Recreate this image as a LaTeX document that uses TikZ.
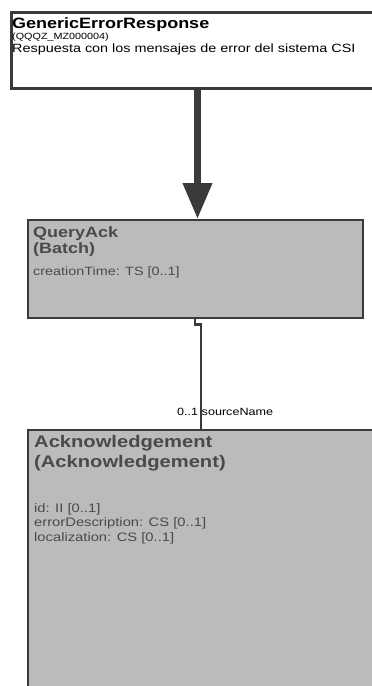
\documentclass[tikz,border=0pt]{standalone}
\usepackage{fontspec}
\setmainfont{Liberation Sans}[FakeStretch=1.2]
\usetikzlibrary{arrows.meta,positioning}
\definecolor{classgray}{HTML}{BBBBBB}
\definecolor{framegray}{HTML}{3A3A3A}
\definecolor{textgray}{HTML}{4A4A4A}
\tikzset{
  classbox/.style={draw=framegray, line width=1.5pt, fill=classgray, anchor=north west, inner sep=0pt},
  classname/.style={anchor=base west, inner sep=0pt, text=textgray, font=\bfseries\fontsize{15}{15}\selectfont},
  attr/.style={anchor=base west, inner sep=0pt, text=textgray, font=\fontsize{12.3}{14}\selectfont},
  link/.style={draw=framegray, line width=2.2pt},
}
\begin{document}
\begin{tikzpicture}[x=1pt,y=-1pt]
\useasboundingbox (0,0) rectangle (372,686);
\clip (0,0) rectangle (372,686);

% boxes
\node[classbox, fill=white, line width=2.5pt, minimum width=380pt, minimum height=76pt] (generic) at (10,11) {};
\node[classbox, minimum width=335pt, minimum height=98pt] (queryack) at (27,219) {};
\node[classbox, minimum width=360pt, minimum height=270pt] (ack) at (27,429) {};

% entry point arrow
\coordinate (entry) at (197.5,0);
\draw[draw=framegray, line width=7pt, -{Triangle[width=28pt,length=36pt]}]
  (generic.south -| entry) -- (queryack.north -| entry);

% association
\coordinate (qa) at (195,0);
\coordinate (ak) at (201,0);
\draw[link] (queryack.south -| qa) -- ++(0,6) -- ++(6,0) -- (ack.north -| ak);
\node[attr, text=black, font=\fontsize{10.5}{11}\selectfont] (role) at (177,415) {0..1 sourceName};

% GenericErrorResponse
\node[classname, text=black, font=\bfseries\fontsize{15}{15}\selectfont] (gname) at (12,28) {GenericErrorResponse};
\node[attr, text=black, font=\fontsize{9}{9}\selectfont] (gid) at (12,39) {(QQQZ\_MZ000004)};
\node[attr, text=black, font=\fontsize{12}{13}\selectfont] (gdesc) at (12,52) {Respuesta con los mensajes de error del sistema CSI};

% QueryAck
\node[classname] (qname) at (33,237) {QueryAck};
\node[classname] (qclass) at (33,253) {(Batch)};
\node[attr, font=\fontsize{12}{14}\selectfont] (qattr) at (33,275) {creationTime: TS [0..1]};

% Acknowledgement
\node[classname, font=\bfseries\fontsize{16.8}{16.8}\selectfont] (aname) at (34,447) {Acknowledgement};
\node[classname, font=\bfseries\fontsize{16.8}{16.8}\selectfont] (aclass) at (34,467) {(Acknowledgement)};
\node[attr] (aattr1) at (34,512) {id: II [0..1]};
\node[attr] (aattr2) at (34,526) {errorDescription: CS [0..1]};
\node[attr] (aattr3) at (34,541) {localization: CS [0..1]};
\end{tikzpicture}
\end{document}
